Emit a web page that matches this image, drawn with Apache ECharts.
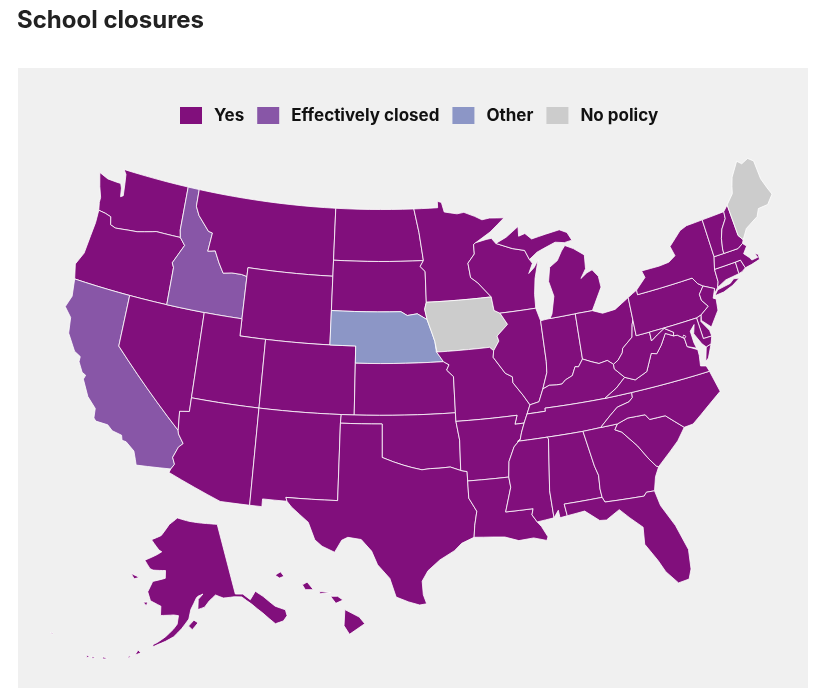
<!DOCTYPE html>
<html><head><meta charset="utf-8"><style>html,body{margin:0;padding:0;background:#fff}#c{width:818px;height:692px}</style>
<script src="https://cdn.jsdelivr.net/npm/echarts@6/dist/echarts.min.js"></script></head><body><div id="c"></div>
<script>
const titleText='School closures';
const legendLabels=['Yes','Effectively closed','Other','No policy'];
const legendColors=['#810f7c','#8856a7','#8c96c6','#cccccc'];
const yesStates=['Washington','Oregon','Nevada','Montana','Wyoming','Utah','Colorado','Arizona','New Mexico','North Dakota','South Dakota','Kansas','Oklahoma','Texas','Minnesota','Missouri','Arkansas','Louisiana','Wisconsin','Illinois','Indiana','Michigan','Ohio','Kentucky','Tennessee','Mississippi','Alabama','Georgia','Florida','South Carolina','North Carolina','Virginia','West Virginia','Pennsylvania','New York','New Jersey','Delaware','Maryland','District of Columbia','Connecticut','Rhode Island','Massachusetts','Vermont','New Hampshire','Alaska','Hawaii'];
const effectivelyClosedStates=['Idaho','California'];
const otherStates=['Nebraska'];
const noPolicyStates=['Iowa','Maine'];
const stateShapes={
'Washington':[[[-124.7,48.38],[-123.9,48.17],[-123.1,48.15],[-122.75,48.15],[-122.6,47.9],[-122.5,47.4],[-122.3,47.5],[-122.4,48.2],[-122.5,48.75],[-122.76,49],[-117.03,49],[-117.04,46.43],[-116.92,46],[-118.98,46],[-119.3,45.93],[-120.5,45.7],[-121.2,45.65],[-122.3,45.55],[-122.75,45.65],[-122.9,46.1],[-123.4,46.2],[-123.98,46.25],[-124.1,46.7],[-124.1,47],[-124.4,47.6]]],
'Oregon':[[[-123.98,46.25],[-123.4,46.2],[-122.9,46.1],[-122.75,45.65],[-122.3,45.55],[-121.2,45.65],[-120.5,45.7],[-119.3,45.93],[-118.98,46],[-116.92,46],[-116.46,45.6],[-116.85,45],[-117.2,44.45],[-117.03,44.2],[-117.03,42],[-120,42],[-124.45,42],[-124.7,42.84],[-124.25,43.6],[-124.1,44.7],[-123.98,45.5]]],
'California':[[[-124.45,42],[-120,42],[-120,39],[-114.63,35],[-114.57,34.8],[-114.14,34.3],[-114.43,34.05],[-114.72,33.4],[-114.52,33.03],[-114.72,32.72],[-117.12,32.53],[-117.25,32.85],[-117.45,33.3],[-118.1,33.72],[-118.4,33.75],[-118.5,34.03],[-119.2,34.15],[-119.6,34.42],[-120.47,34.45],[-120.65,34.6],[-120.7,35.15],[-121.4,35.7],[-122,36.6],[-121.9,36.85],[-122.2,36.96],[-122.6,37.5],[-122.6,37.8],[-123.1,38],[-123.85,38.9],[-124,39.8],[-124.6,40.3],[-124.3,41]]],
'Nevada':[[[-120,42],[-117.03,42],[-114.04,42],[-114.04,37],[-114.04,36.2],[-114.74,36.1],[-114.63,35],[-120,39]]],
'Idaho':[[[-117.03,49],[-116.05,49],[-116.05,48],[-115.7,47.5],[-114.7,46.7],[-114.35,46.65],[-114.5,45.55],[-113.9,45.65],[-113.45,45],[-113,44.45],[-112.3,44.55],[-111.5,44.55],[-111.05,44.48],[-111.05,42],[-114.04,42],[-117.03,42],[-117.03,44.2],[-117.2,44.45],[-116.85,45],[-116.46,45.6],[-116.92,46],[-117.04,46.43]]],
'Montana':[[[-116.05,49],[-104.05,49],[-104.05,45.94],[-104.05,45],[-111.05,45],[-111.05,44.48],[-111.5,44.55],[-112.3,44.55],[-113,44.45],[-113.45,45],[-113.9,45.65],[-114.5,45.55],[-114.35,46.65],[-114.7,46.7],[-115.7,47.5],[-116.05,48]]],
'Wyoming':[[[-111.05,45],[-104.05,45],[-104.05,43],[-104.05,41],[-111.05,41],[-111.05,42],[-111.05,44.48]]],
'Utah':[[[-114.04,42],[-111.05,42],[-111.05,41],[-109.05,41],[-109.05,37],[-114.04,37]]],
'Colorado':[[[-109.05,41],[-104.05,41],[-102.05,41],[-102.05,40],[-102.05,37],[-103,37],[-109.05,37]]],
'Arizona':[[[-114.04,37],[-109.05,37],[-109.05,31.33],[-111.07,31.33],[-114.81,32.5],[-114.72,32.72],[-114.52,33.03],[-114.72,33.4],[-114.43,34.05],[-114.14,34.3],[-114.57,34.8],[-114.63,35],[-114.74,36.1],[-114.04,36.2]]],
'New Mexico':[[[-109.05,37],[-103,37],[-103.04,36.5],[-103.06,32],[-106.62,32],[-106.53,31.78],[-108.21,31.78],[-108.21,31.33],[-109.05,31.33]]],
'North Dakota':[[[-104.05,49],[-97.23,49],[-96.85,47.6],[-96.56,45.94],[-104.05,45.94]]],
'South Dakota':[[[-104.05,45.94],[-96.56,45.94],[-96.85,45.6],[-96.45,45.3],[-96.45,43.5],[-96.6,43.1],[-96.44,42.49],[-97.2,42.85],[-98,42.77],[-98.5,43],[-104.05,43],[-104.05,45]]],
'Nebraska':[[[-104.05,43],[-98.5,43],[-98,42.77],[-97.2,42.85],[-96.44,42.49],[-96.1,41.7],[-95.9,41.2],[-95.82,40.6],[-95.31,40],[-102.05,40],[-102.05,41],[-104.05,41]]],
'Kansas':[[[-102.05,40],[-95.31,40],[-94.9,39.8],[-95.1,39.5],[-94.61,39.1],[-94.62,37],[-102.05,37]]],
'Oklahoma':[[[-103,37],[-102.05,37],[-94.62,37],[-94.62,36.5],[-94.43,35.4],[-94.48,33.64],[-95.2,33.88],[-96,33.85],[-96.6,33.85],[-97.2,33.8],[-97.9,33.95],[-98.5,34.1],[-99.2,34.3],[-100,34.56],[-100,36.5],[-103.04,36.5]]],
'Texas':[[[-106.62,32],[-103.06,32],[-103.04,36.5],[-100,36.5],[-100,34.56],[-99.2,34.3],[-98.5,34.1],[-97.9,33.95],[-97.2,33.8],[-96.6,33.85],[-96,33.85],[-95.2,33.88],[-94.48,33.64],[-94.04,33.55],[-94.04,33],[-94.04,32],[-93.55,31.2],[-93.75,30.4],[-93.85,29.7],[-94.7,29.4],[-95.2,29],[-96.2,28.5],[-97,27.9],[-97.4,27.3],[-97.35,26.5],[-97.15,25.96],[-97.6,25.9],[-98.3,26.1],[-99.1,26.4],[-99.5,27.5],[-100.3,28.3],[-100.7,29.1],[-101.4,29.77],[-102.3,29.88],[-102.7,29.7],[-103.15,28.98],[-104,29.3],[-104.5,29.65],[-105,30.65],[-106.2,31.47],[-106.53,31.78]]],
'Minnesota':[[[-97.23,49],[-95.15,49],[-95.15,49.38],[-94.8,49.3],[-94.6,48.72],[-93.5,48.55],[-92.9,48.6],[-92,48.3],[-91.4,48.05],[-90.75,48.1],[-89.5,48],[-90.8,47.28],[-92.1,46.75],[-92.29,46.66],[-92.29,46.1],[-92.88,45.6],[-92.75,44.75],[-92.2,44.4],[-91.22,43.5],[-96.45,43.5],[-96.45,45.3],[-96.85,45.6],[-96.56,45.94],[-96.85,47.6]]],
'Iowa':[[[-96.45,43.5],[-91.22,43.5],[-91.1,42.7],[-90.65,42.5],[-90.15,41.8],[-91.05,41.2],[-90.95,40.9],[-91.42,40.38],[-91.7,40.6],[-95.77,40.58],[-95.82,40.6],[-95.9,41.2],[-96.1,41.7],[-96.44,42.49],[-96.6,43.1]]],
'Missouri':[[[-95.77,40.58],[-91.7,40.6],[-91.42,40.38],[-91.5,40],[-90.7,39],[-90.2,38.75],[-90.2,38.4],[-89.55,37.6],[-89.13,37],[-89.42,36.5],[-89.7,36],[-90.37,36],[-90.15,36.5],[-94.62,36.5],[-94.62,37],[-94.61,39.1],[-95.1,39.5],[-94.9,39.8],[-95.31,40],[-95.82,40.6]]],
'Arkansas':[[[-94.62,36.5],[-90.15,36.5],[-90.37,36],[-89.7,36],[-89.95,35.5],[-90.1,35.1],[-90.6,34.7],[-91.05,33.9],[-91.17,33],[-94.04,33],[-94.04,33.55],[-94.48,33.64],[-94.43,35.4]]],
'Louisiana':[[[-94.04,33],[-91.17,33],[-91.1,32.4],[-91.6,31],[-89.73,31],[-89.85,30.65],[-89.55,30.2],[-89.3,29.9],[-88.95,29.25],[-89.05,29.05],[-89.9,29.3],[-90.9,29.25],[-91.8,29.55],[-92.6,29.62],[-93.85,29.7],[-93.75,30.4],[-93.55,31.2],[-94.04,32]]],
'Wisconsin':[[[-92.29,46.66],[-92.1,46.75],[-91.2,46.87],[-90.75,46.9],[-90.42,46.57],[-89.1,46.14],[-88.1,45.92],[-87.8,45.35],[-87.6,45.1],[-88,44.55],[-87.5,44.85],[-87.1,45.25],[-87.55,44.2],[-87.75,43.3],[-87.8,42.49],[-90.65,42.5],[-91.1,42.7],[-91.22,43.5],[-92.2,44.4],[-92.75,44.75],[-92.88,45.6],[-92.29,46.1]]],
'Illinois':[[[-90.65,42.5],[-87.8,42.49],[-87.55,41.72],[-87.53,39.35],[-87.6,38.7],[-88.05,37.8],[-88.45,37.1],[-89.13,37],[-89.55,37.6],[-90.2,38.4],[-90.2,38.75],[-90.7,39],[-91.5,40],[-91.42,40.38],[-90.95,40.9],[-91.05,41.2],[-90.15,41.8]]],
'Indiana':[[[-87.55,41.72],[-87.2,41.75],[-86.8,41.76],[-84.8,41.76],[-84.81,39.1],[-85.2,38.7],[-85.45,38.75],[-85.75,38.27],[-86.3,38.1],[-86.6,37.9],[-87,37.9],[-87.55,37.95],[-88.05,37.8],[-87.6,38.7],[-87.53,39.35]]],
'Michigan':[[[-86.8,41.76],[-84.8,41.76],[-83.45,41.73],[-83.15,42.1],[-82.45,42.95],[-82.5,43.6],[-82.9,44.05],[-83.35,43.95],[-83.9,43.7],[-83.4,44.2],[-83.3,45],[-84.1,45.5],[-84.75,45.78],[-85.1,45.5],[-85.55,45],[-86.25,44.7],[-86.5,43.9],[-86.25,43],[-86.6,42]],[[-90.42,46.57],[-89.1,46.14],[-88.1,45.92],[-87.8,45.35],[-87.1,45.7],[-86.5,45.85],[-85.5,46.08],[-84.75,45.95],[-84.1,46],[-84.4,46.5],[-85,46.75],[-86.2,46.65],[-87.4,46.52],[-87.9,46.9],[-88.45,46.8],[-88.4,47.37],[-89.5,46.85]]],
'Ohio':[[[-84.8,41.76],[-83.45,41.73],[-82.7,41.45],[-81.7,41.5],[-80.52,41.98],[-80.52,40.64],[-80.65,40.4],[-80.85,39.7],[-81.7,39.2],[-81.8,38.95],[-82.2,38.6],[-82.6,38.42],[-83,38.72],[-83.65,38.65],[-84.2,38.85],[-84.81,39.1]]],
'Kentucky':[[[-89.42,36.5],[-89.13,37],[-88.45,37.1],[-88.05,37.8],[-87.55,37.95],[-87,37.9],[-86.6,37.9],[-86.3,38.1],[-85.75,38.27],[-85.45,38.75],[-85.2,38.7],[-84.81,39.1],[-84.2,38.85],[-83.65,38.65],[-83,38.72],[-82.6,38.42],[-82.6,38.15],[-81.97,37.54],[-82.7,37.05],[-83.68,36.6],[-88.07,36.68],[-88.07,36.5]]],
'Tennessee':[[[-89.42,36.5],[-88.07,36.5],[-88.07,36.68],[-83.68,36.6],[-81.68,36.59],[-81.7,36.3],[-82,36.1],[-82.9,35.95],[-83.5,35.57],[-84.32,35],[-85.6,34.98],[-88.2,35],[-90.3,35],[-90.1,35.1],[-89.95,35.5],[-89.7,36]]],
'Mississippi':[[[-90.3,35],[-88.2,35],[-88.1,34.9],[-88.47,31.9],[-88.4,30.3],[-89.55,30.2],[-89.85,30.65],[-89.73,31],[-91.6,31],[-91.1,32.4],[-91.17,33],[-91.05,33.9],[-90.6,34.7],[-90.1,35.1]]],
'Alabama':[[[-88.2,35],[-85.6,34.98],[-85.18,32.87],[-85,32.3],[-85.05,31.5],[-85,31],[-87.6,31],[-87.5,30.3],[-88,30.25],[-88.05,30.7],[-88.4,30.3],[-88.47,31.9],[-88.1,34.9]]],
'Georgia':[[[-85.6,34.98],[-84.32,35],[-83.1,35],[-83.35,34.7],[-82.9,34.48],[-82,33.5],[-81.4,32.6],[-81,32.1],[-80.85,32.03],[-81.2,31.5],[-81.45,30.72],[-82,30.75],[-82.2,30.56],[-84.86,30.7],[-85,31],[-85.05,31.5],[-85,32.3],[-85.18,32.87]]],
'Florida':[[[-87.6,31],[-85,31],[-84.86,30.7],[-82.2,30.56],[-82,30.75],[-81.45,30.72],[-81.25,29.8],[-80.55,28.45],[-80.05,26.9],[-80.15,25.75],[-80.4,25.2],[-81.1,25.13],[-81.75,25.95],[-82.1,26.7],[-82.75,27.8],[-82.65,28.8],[-83.4,29.5],[-84,30.1],[-84.95,29.65],[-85.4,29.7],[-86.3,30.4],[-87.5,30.3]]],
'South Carolina':[[[-83.1,35],[-82.3,35.2],[-81.05,35.15],[-80.8,34.82],[-79.67,34.8],[-78.55,33.86],[-79.2,33.2],[-79.9,32.7],[-80.85,32.03],[-81,32.1],[-81.4,32.6],[-82,33.5],[-82.9,34.48],[-83.35,34.7]]],
'North Carolina':[[[-84.32,35],[-83.5,35.57],[-82.9,35.95],[-82,36.1],[-81.7,36.3],[-81.68,36.59],[-75.87,36.55],[-75.5,35.25],[-76.5,34.7],[-77.9,33.9],[-78.55,33.86],[-79.67,34.8],[-80.8,34.82],[-81.05,35.15],[-82.3,35.2],[-83.1,35]]],
'Virginia':[[[-83.68,36.6],[-81.68,36.59],[-75.87,36.55],[-76,36.9],[-76.4,37],[-76.3,37.6],[-76.3,37.95],[-77,38.3],[-77.05,38.8],[-77.5,39.1],[-77.8,39.13],[-78.35,39.4],[-78.85,38.8],[-79.3,38.4],[-79.7,38.5],[-80.3,37.55],[-81.25,37.25],[-81.97,37.54],[-82.7,37.05]],[[-75.95,37.15],[-75.65,37.95],[-75.25,38.03],[-75.7,37.3]]],
'West Virginia':[[[-82.6,38.42],[-82.2,38.6],[-81.8,38.95],[-81.7,39.2],[-80.85,39.7],[-80.65,40.4],[-80.52,40.64],[-80.52,39.72],[-79.48,39.72],[-79.48,39.2],[-78.95,39.45],[-78.35,39.7],[-77.72,39.32],[-77.8,39.13],[-78.35,39.4],[-78.85,38.8],[-79.3,38.4],[-79.7,38.5],[-80.3,37.55],[-81.25,37.25],[-81.97,37.54],[-82.6,38.15]]],
'Pennsylvania':[[[-80.52,41.98],[-80.1,42.15],[-79.76,42.27],[-79.76,42],[-75.35,42],[-75.05,41.6],[-74.7,41.36],[-75.13,40.97],[-75.1,40.6],[-74.72,40.15],[-75.42,39.8],[-75.8,39.72],[-79.48,39.72],[-80.52,39.72],[-80.52,40.64]]],
'New York':[[[-79.76,42.27],[-79.76,42],[-75.35,42],[-75.05,41.6],[-74.7,41.36],[-73.9,41],[-74.03,40.7],[-73.65,41],[-73.5,41.3],[-73.5,42.05],[-73.26,42.75],[-73.35,45.01],[-74.7,45],[-75.3,44.85],[-76.4,44.15],[-76.2,43.55],[-76.8,43.3],[-77.6,43.25],[-79.05,43.27],[-78.9,42.85]],[[-74.03,40.6],[-73.7,40.87],[-72.65,40.97],[-72.3,41.15],[-71.87,41.07],[-72.5,40.82],[-73.3,40.63]]],
'New Jersey':[[[-74.7,41.36],[-73.9,41],[-74.2,40.5],[-74,40.4],[-74.1,39.75],[-74.9,38.95],[-75.5,39.5],[-75.42,39.8],[-74.72,40.15],[-75.1,40.6],[-75.13,40.97]]],
'Delaware':[[[-75.8,39.72],[-75.42,39.8],[-75.55,39.45],[-75.1,38.8],[-75.05,38.45],[-75.7,38.46]]],
'Maryland':[[[-79.48,39.72],[-75.8,39.72],[-75.7,38.46],[-75.05,38.45],[-75.25,38.03],[-75.65,37.95],[-75.9,38.2],[-76.3,38.9],[-76.1,39.4],[-76.5,39.1],[-76.45,38.4],[-76.35,38.05],[-77,38.3],[-77.05,38.8],[-77.5,39.1],[-77.8,39.13],[-77.72,39.32],[-78.35,39.7],[-78.95,39.45],[-79.48,39.2]]],
'District of Columbia':[[[-77.12,38.93],[-77.04,39],[-76.91,38.89],[-77.04,38.79]]],
'Connecticut':[[[-73.5,42.05],[-71.8,42.02],[-71.8,41.32],[-72.9,41.25],[-73.65,41],[-73.5,41.3]]],
'Rhode Island':[[[-71.8,42.02],[-71.38,42.02],[-71.2,41.5],[-71.5,41.37],[-71.8,41.32]]],
'Massachusetts':[[[-73.26,42.75],[-72.46,42.73],[-71.3,42.7],[-70.85,42.88],[-70.6,42.65],[-71,42.3],[-70.65,41.95],[-70.55,41.78],[-70.05,41.8],[-70.2,42.07],[-69.95,41.95],[-69.97,41.65],[-70.65,41.55],[-71.2,41.5],[-71.38,42.02],[-71.8,42.02],[-73.5,42.05]]],
'Vermont':[[[-73.35,45.01],[-71.5,45.01],[-71.55,44.6],[-72.05,44.1],[-72.3,43.6],[-72.45,43],[-72.46,42.73],[-73.26,42.75]]],
'New Hampshire':[[[-71.5,45.01],[-71.08,45.3],[-70.98,43.4],[-70.7,43.07],[-70.85,42.88],[-71.3,42.7],[-72.46,42.73],[-72.45,43],[-72.3,43.6],[-72.05,44.1],[-71.55,44.6]]],
'Maine':[[[-71.08,45.3],[-70.4,45.8],[-70.25,46.2],[-70,46.7],[-69.23,47.46],[-68.9,47.2],[-68.3,47.35],[-67.9,47.07],[-67.85,45.95],[-67.6,45.3],[-67.4,44.85],[-68,44.4],[-68.8,44.4],[-69.1,44],[-69.8,43.75],[-70.2,43.6],[-70.7,43.07],[-70.98,43.4]]],
'Alaska':[[[-141,69.65],[-141,60.3],[-139,60],[-137.5,59],[-135.5,59.8],[-134,58.8],[-132,57],[-130,56],[-130.2,55.2],[-131.5,54.8],[-133.5,54.9],[-135.5,56.8],[-137.5,58.4],[-139.5,59.7],[-141.5,60],[-144.5,60.2],[-146.5,60.8],[-148.5,60.2],[-150,59.5],[-151.9,59.3],[-151.5,60.6],[-150,61.2],[-151.5,61],[-152,60.8],[-153.8,59.4],[-154.5,58.2],[-156.5,57],[-158.5,56],[-160.5,55.4],[-162.5,54.9],[-163.5,54.6],[-163.5,54.9],[-162.5,55.2],[-160.5,56],[-158.6,56.95],[-157.6,57.6],[-157.2,58.7],[-158.5,58.8],[-162,58.7],[-162,59.9],[-165,60.5],[-166,61.6],[-164.8,63],[-161,63.5],[-161,64.5],[-165,64.45],[-166,64.6],[-168,65.6],[-164,66.5],[-162.5,66.9],[-163.5,67.1],[-166.5,68.35],[-163,69],[-160,70.5],[-156.6,71.35],[-152,70.8],[-148,70.4],[-144,70]],[[-154.7,57.3],[-153.2,58],[-152.2,57.6],[-153.8,56.8]],[[-167,60.2],[-165.7,60.3],[-166,59.8]],[[-171.7,63.6],[-169,63.3],[-170.5,63]],[[-166.9,54],[-166.2,53.7],[-167.5,53.3]],[[-169,52.95],[-168.4,53.2],[-168.8,52.7]],[[-174.6,52.3],[-173.5,52.2],[-174.5,52]],[[-177,51.95],[-176.2,51.95],[-176.8,51.7]],[[-178.3,51.9],[-177.5,51.85],[-178,51.6]],[[-187,52.95],[-187.6,52.85],[-186.9,52.8]]],
'Hawaii':[[[-155.9,20.25],[-155.1,19.85],[-154.8,19.5],[-155.65,18.95],[-155.95,19.4]],[[-156.7,20.95],[-156.3,20.95],[-156,20.75],[-156.4,20.58]],[[-157.3,21.2],[-156.7,21.15],[-157.3,21.08]],[[-158.27,21.55],[-158,21.7],[-157.65,21.3],[-158.1,21.3]],[[-159.8,22.05],[-159.5,22.23],[-159.3,22],[-159.55,21.9]]]
};
const rad=Math.PI/180;
function conic(lon0,p0,p1,cLon,cLat,scale,tx,ty,yStretch,bend){
  const n=(Math.sin(p0*rad)+Math.sin(p1*rad))/2,C=Math.cos(p0*rad)**2+2*n*Math.sin(p0*rad);
  const raw=(lon,lat)=>{const r=Math.sqrt(C-2*n*Math.sin(lat*rad))/n,t=n*(lon-lon0)*rad;return [r*Math.sin(t),r*Math.cos(t)];};
  const c=raw(cLon,cLat);
  return (lon,lat)=>{const q=raw(lon,lat),t=n*(lon-lon0);return [(q[0]-c[0])*scale+tx,(q[1]-c[1])*scale*yStretch+ty-bend*t*t];};
}
const lower48=conic(-100,29.5,45.5,-96.6,38.7,1,0,0,0.992,0.00005);
const alaska=conic(-159,55,65,-156,58.5,0.4205,-0.2475,0.2348,1.07,0);
const hawaii=conic(-157,8,18,-160,19.9,1.108,-0.1584,0.2337,1,0);
function projectPoint(p){
  const lon=p[0],lat=p[1];
  if(lat>50&&lon<-128)return alaska(lon,lat);
  if(lat<30&&lon<-150)return hawaii(lon,lat);
  return lower48(lon,lat);
}
function followCurve(ring){
  const out=[];
  ring.concat([ring[0]]).forEach((q,i,a)=>{
    if(i===0){out.push(q);return;}
    const s=a[i-1],m=Math.ceil(Math.abs(q[0]-s[0]));
    for(let k=1;k<=m;k++)out.push([s[0]+(q[0]-s[0])*k/m,s[1]+(q[1]-s[1])*k/m]);
    if(m===0)out.push(q);
  });
  return out;
}
const geoJson={type:'FeatureCollection',features:Object.keys(stateShapes).map(name=>({type:'Feature',properties:{name},geometry:{type:'MultiPolygon',coordinates:stateShapes[name].map(r=>[followCurve(r)])}}))};
echarts.registerMap('USA',geoJson);
const chart=echarts.init(document.getElementById('c'),null,{renderer:'canvas'});
const stateData=[].concat(
  yesStates.map(name=>({name,value:0})),
  effectivelyClosedStates.map(name=>({name,value:1})),
  otherStates.map(name=>({name,value:2})),
  noPolicyStates.map(name=>({name,value:3})));
chart.setOption({
  animation:false,
  backgroundColor:'#fff',
  title:{text:titleText,left:17,top:9,padding:0,textStyle:{fontFamily:'Inter',fontSize:24,fontWeight:'bold',color:'#222'}},
  graphic:[{type:'rect',silent:true,z:-10,shape:{x:18,y:68,width:790,height:620},style:{fill:'#f0f0f0'}}],
  visualMap:{type:'piecewise',orient:'horizontal',left:165,top:92,itemWidth:22,itemHeight:17,itemGap:13,textGap:12,itemSymbol:'rect',hoverLink:false,selectedMode:false,
    pieces:legendLabels.map((label,i)=>({value:i,label,color:legendColors[i]})),
    textStyle:{fontFamily:'Inter',fontSize:17,fontWeight:'bold',color:'#111'}},
  series:[{type:'map',map:'USA',roam:false,silent:true,layoutCenter:[411,408.75],layoutSize:722,
    projection:{project:projectPoint,unproject:p=>p},
    label:{show:false},emphasis:{disabled:true},select:{disabled:true},
    itemStyle:{borderColor:'#fff',borderWidth:0.8},data:stateData}]
});
</script></body></html>
